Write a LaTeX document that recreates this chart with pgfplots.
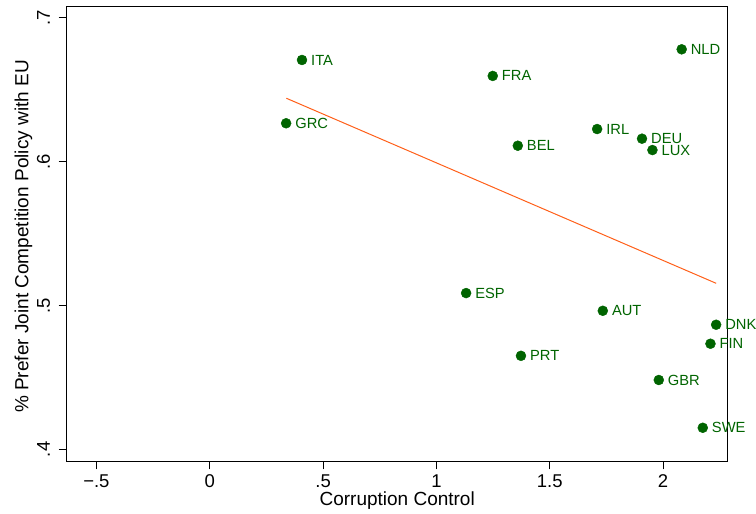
\documentclass[border=0pt]{standalone}
\usepackage{pgfplots}
\pgfplotsset{compat=1.18}
\usepackage{fontspec}
\setmainfont{Liberation Sans}
\definecolor{dkg}{RGB}{0,100,0}
\definecolor{fitc}{RGB}{255,95,25}
\begin{document}
\begin{tikzpicture}[x=1pt,y=1pt]
\begin{axis}[
  scale only axis,
  width=661pt, height=455pt,
  xmin=-0.631, xmax=2.285,
  ymin=0.3917, ymax=0.7079,
  axis line style={line width=1pt},
  xtick={-0.5,0,0.5,1,1.5,2},
  xticklabels={−.5,0,.5,1,1.5,2},
  ytick={0.4,0.5,0.6,0.7},
  yticklabels={.4,.5,.6,.7},
  xtick pos=bottom, ytick pos=left,
  tick align=outside,
  major tick length=8pt,
  tick style={line width=0.8pt,black},
  ticklabel style={font=\fontsize{18.5}{20}\selectfont},
  yticklabel style={xshift=-8.7pt, rotate=90, anchor=base, inner sep=0pt},
  xticklabel style={inner sep=0pt, anchor=base, yshift=-18.7pt},
  xlabel={Corruption Control},
  ylabel={\% Prefer Joint Competition Policy with EU},
  label style={font=\fontsize{19}{21}\selectfont},
  xlabel style={at={(axis description cs:0.5,-0.0982)}, anchor=base, inner sep=0pt},
  ylabel style={at={(axis description cs:-0.0578,0.494)}, anchor=base, inner sep=0pt},
  clip=false,
]
\addplot[fitc, line width=1pt] coordinates {(0.338,0.644) (2.234,0.5154)};
\addplot[only marks, mark=*, mark size=5pt, color=dkg, mark options={fill=dkg, draw=dkg},
  point meta=explicit symbolic,
  nodes near coords,
  nodes near coords style={anchor=west, text=dkg, font=\fontsize{14.7}{16}\selectfont, inner sep=0pt, xshift=9pt}]
table[meta=label] {
x y label
0.407 0.6706 ITA
0.337 0.6266 GRC
1.2485 0.6595 FRA
2.082 0.678 NLD
1.709 0.6226 IRL
1.359 0.611 BEL
1.907 0.6159 DEU
1.953 0.608 LUX
1.131 0.5086 ESP
1.734 0.4963 AUT
2.234 0.4866 DNK
2.209 0.4734 FIN
1.373 0.465 PRT
1.981 0.4482 GBR
2.175 0.415 SWE
};
\end{axis}
\pgfresetboundingbox
\path (current axis.south west) ++(-66.7pt,-52.7pt) rectangle ++(756pt,514pt);
\end{tikzpicture}
\end{document}
